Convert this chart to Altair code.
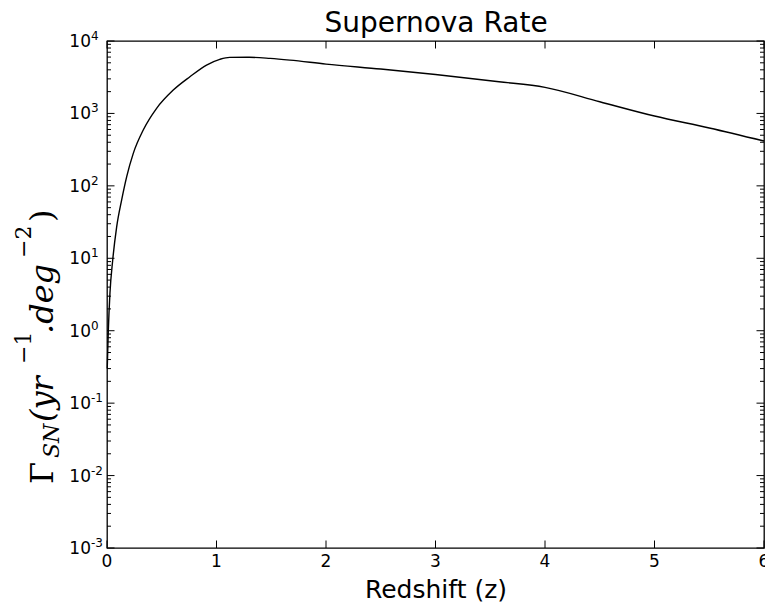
import altair as alt
import pandas as pd

# Supernova rate curve
z = [0.002, 0.012, 0.027, 0.052, 0.088, 0.134, 0.18, 0.24, 0.331,
     0.453, 0.605, 0.757, 0.909, 1.03, 1.12, 1.30, 1.49, 1.67, 2.0, 2.5, 3.0,
     3.58, 4.0, 4.5, 5.0, 5.5, 6.0]
rate = [0.3, 1.0, 3.3, 9.4, 27, 64, 134, 281, 590,
        1175, 2100, 3210, 4660, 5580, 5950, 5960, 5750, 5450, 4800, 4100, 3450,
        2740, 2290, 1450, 920, 630, 416]

x_ticks = [0, 1, 2, 3, 4, 5, 6]
y_ticks = [1e-3, 1e-2, 1e-1, 1e0, 1e1, 1e2, 1e3, 1e4]
y_exponents = ['-3', '-2', '-1', '0', '1', '2', '3', '4']
y_minor = [k * 10.0 ** e for e in range(-3, 4) for k in range(2, 10)]

W, H = 657, 507
MAJ, MIN = 7.5, 4

curve = pd.DataFrame({'z': z, 'rate': rate})
ymaj = pd.DataFrame({'v': y_ticks, 'exp': y_exponents})
ymin = pd.DataFrame({'v': y_minor})
xmaj = pd.DataFrame({'v': x_ticks})
one = pd.DataFrame({'a': [0]})

xs = alt.Scale(domain=[0, 6], nice=False, zero=False)
ys = alt.Scale(type='log', domain=[1e-3, 1e4], nice=False)

line = alt.Chart(curve).mark_line(color='black', strokeWidth=1.4, interpolate='monotone').encode(
    x=alt.X('z:Q', scale=xs, axis=None),
    y=alt.Y('rate:Q', scale=ys, axis=None),
)

# y tick labels: "10" + raised exponent
ylab_base = alt.Chart(ymaj).mark_text(align='right', baseline='alphabetic', fontSize=17,
                                       font='DejaVu Sans', color='black').encode(
    x=alt.value(-16), y=alt.Y('v:Q', scale=ys, axis=None), text=alt.value('10'), yOffset=alt.value(6))
ylab_exp = alt.Chart(ymaj).mark_text(align='left', baseline='alphabetic', fontSize=12,
                                      font='DejaVu Sans', color='black').encode(
    x=alt.value(-16), y=alt.Y('v:Q', scale=ys, axis=None), text='exp:N', yOffset=alt.value(-1))

# x tick labels
xlab = alt.Chart(xmaj).mark_text(align='center', baseline='top', fontSize=17,
                                  font='DejaVu Sans', color='black').encode(
    x=alt.X('v:Q', scale=xs, axis=None), y=alt.value(H + 6), text=alt.Text('v:Q', format='d'))

def yrule(df, x0, x1):
    return alt.Chart(df).mark_rule(color='black', strokeWidth=1).encode(
        x=alt.value(x0), x2=alt.value(x1), y=alt.Y('v:Q', scale=ys, axis=None))

def xrule(y0, y1):
    return alt.Chart(xmaj).mark_rule(color='black', strokeWidth=1).encode(
        x=alt.X('v:Q', scale=xs, axis=None), y=alt.value(y0), y2=alt.value(y1))

ticks = [
    yrule(ymaj, 0, MAJ), yrule(ymin, 0, MIN),
    yrule(ymaj, W, W - MAJ), yrule(ymin, W, W - MIN),
    xrule(H, H - MAJ), xrule(0, MAJ),
]

def label(txt, x, y, size, angle=0, align='center', font='DejaVu Sans', style='normal'):
    return alt.Chart(one).mark_text(text=txt, angle=angle, align=align, baseline='alphabetic',
                                    font=font, fontSize=size, fontStyle=style,
                                    color='black').encode(x=alt.value(x - 107), y=alt.value(y - 41))

def piece(txt, x, y, size, style='italic'):
    return label(txt, x, y, size, angle=270, align='left', font='DejaVu Serif', style=style)

texts = [
    label('Supernova Rate', 436, 32, 28),
    label('Redshift (z)', 436, 598, 25),
    piece('Γ', 53, 484, 32, 'normal'),
    piece('SN', 59, 458, 22),
    piece('(yr', 53, 422, 32),
    piece('−1', 31, 364, 22, 'normal'),
    piece('.deg', 53, 334, 32),
    piece('−2', 31, 258, 22, 'normal'),
    piece(')', 53, 222, 32, 'normal'),
]

chart = alt.layer(line, ylab_base, ylab_exp, xlab, *ticks, *texts).properties(
    width=W, height=H,
    autosize=alt.AutoSizeParams(type='none'),
    padding={'left': 107, 'top': 41, 'right': 1, 'bottom': 55},
    background='white',
).configure_view(stroke='black', strokeWidth=1.3)

chart.save('out.html', embed_options={'renderer': 'svg', 'actions': False})
